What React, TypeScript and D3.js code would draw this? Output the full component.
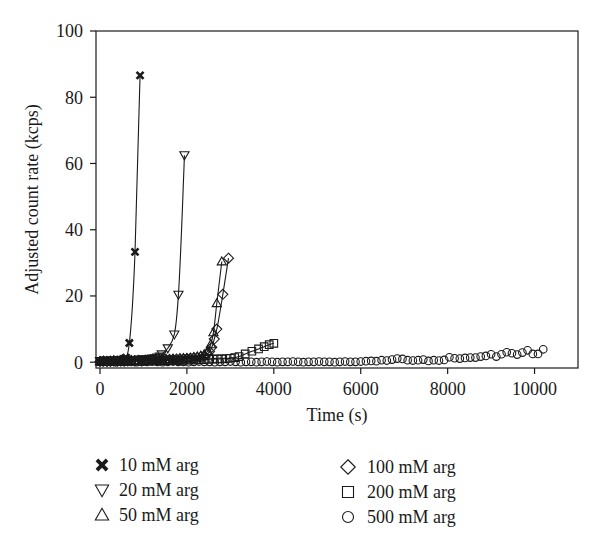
import React from "react";
import * as d3 from "d3";

const t10 = [0, 30, 60, 90, 120, 150, 180, 210, 240, 270, 300, 330, 360, 390, 420, 450, 480, 510, 540, 570, 600, 676, 806, 922];
const v10 = [0.3, 0.2, 0.4, 0.3, 0.2, 0.4, 0.3, 0.3, 0.5, 0.4, 0.3, 0.5, 0.4, 0.6, 0.5, 0.7, 0.6, 0.8, 0.9, 1.1, 1.4, 5.8, 33.3, 86.6];

const t20 = [0, 60, 120, 180, 240, 300, 360, 420, 480, 540, 600, 660, 720, 780, 840, 900, 960, 1020, 1080, 1140, 1200, 1260, 1320, 1380, 1421, 1560, 1710, 1805, 1943];
const v20 = [0.4, 0.3, 0.5, 0.4, 0.3, 0.5, 0.4, 0.6, 0.5, 0.4, 0.6, 0.5, 0.7, 0.6, 0.7, 0.8, 0.7, 0.9, 0.8, 1.0, 1.1, 1.2, 1.4, 1.7, 2.4, 4.2, 8.4, 20.4, 62.5];

const t50 = [0, 80, 160, 240, 320, 400, 480, 560, 640, 720, 800, 880, 960, 1040, 1120, 1200, 1280, 1360, 1440, 1520, 1600, 1680, 1760, 1840, 1920, 2000, 2080, 2160, 2240, 2320, 2400, 2480, 2550, 2611, 2688, 2803];
const v50 = [0.3, 0.4, 0.3, 0.4, 0.5, 0.4, 0.5, 0.4, 0.5, 0.6, 0.5, 0.6, 0.5, 0.7, 0.6, 0.7, 0.7, 0.8, 0.8, 0.9, 0.9, 1.0, 1.0, 1.1, 1.2, 1.2, 1.3, 1.5, 1.7, 2.0, 2.4, 3.4, 5.4, 9.0, 17.8, 30.4];

const t100 = [0, 80, 160, 240, 320, 400, 480, 560, 640, 720, 800, 880, 960, 1040, 1120, 1200, 1280, 1360, 1440, 1520, 1600, 1680, 1760, 1840, 1920, 2000, 2080, 2160, 2240, 2320, 2400, 2460, 2520, 2573, 2630, 2688, 2827, 2957];
const v100 = [0.2, 0.3, 0.2, 0.3, 0.4, 0.3, 0.4, 0.3, 0.4, 0.5, 0.4, 0.5, 0.4, 0.6, 0.5, 0.6, 0.6, 0.7, 0.7, 0.8, 0.8, 0.9, 0.9, 1.0, 1.0, 1.1, 1.2, 1.3, 1.4, 1.6, 1.9, 2.4, 3.2, 4.5, 7.0, 10.0, 20.5, 31.4];

const t200 = [0, 100, 200, 300, 400, 500, 600, 700, 800, 900, 1000, 1100, 1200, 1300, 1400, 1500, 1600, 1700, 1800, 1900, 2000, 2100, 2200, 2300, 2400, 2500, 2600, 2700, 2800, 2900, 3000, 3100, 3200, 3341, 3495, 3648, 3779, 3894, 4000];
const v200 = [0.2, 0.3, 0.2, 0.3, 0.3, 0.2, 0.3, 0.4, 0.3, 0.4, 0.3, 0.4, 0.4, 0.5, 0.4, 0.5, 0.5, 0.6, 0.5, 0.6, 0.6, 0.7, 0.7, 0.8, 0.8, 0.9, 0.9, 1.0, 1.0, 1.1, 1.2, 1.4, 1.7, 2.5, 3.3, 4.0, 4.7, 5.3, 5.7];

const t500 = [0, 120, 240, 360, 480, 600, 720, 840, 960, 1080, 1200, 1320, 1440, 1560, 1680, 1800, 1920, 2040, 2160, 2280, 2400, 2520, 2640, 2760, 2880, 3000, 3120, 3240, 3360, 3480, 3600, 3720, 3840, 3960, 4080, 4200, 4320, 4440, 4560, 4680, 4800, 4920, 5040, 5160, 5280, 5400, 5520, 5640, 5760, 5880, 6000, 6120, 6240, 6360, 6480, 6600, 6720, 6840, 6960, 7080, 7200, 7320, 7440, 7560, 7680, 7800, 7920, 8040, 8160, 8280, 8400, 8520, 8640, 8760, 8880, 9000, 9120, 9240, 9360, 9480, 9600, 9720, 9840, 9960, 10080, 10200];
const v500 = [0.1, 0.2, 0.1, 0.0, 0.1, 0.2, 0.1, 0.0, 0.1, 0.1, 0.2, 0.1, 0.0, 0.1, 0.2, 0.1, 0.1, 0.0, 0.1, 0.2, 0.1, 0.1, 0.0, 0.1, 0.1, 0.2, 0.1, 0.0, 0.1, 0.1, 0.0, 0.1, 0.2, 0.1, 0.0, 0.1, 0.1, 0.2, 0.1, 0.0, 0.1, 0.1, 0.2, 0.1, 0.1, 0.0, 0.1, 0.2, 0.1, 0.1, 0.2, 0.3, 0.4, 0.3, 0.6, 0.5, 0.8, 1.1, 1.0, 0.6, 0.5, 0.6, 0.8, 0.4, 0.6, 0.5, 0.7, 1.5, 1.2, 1.1, 1.3, 1.4, 1.4, 1.7, 1.9, 2.4, 1.7, 2.4, 3.0, 2.7, 2.3, 2.9, 3.6, 2.5, 2.5, 3.9];

const seriesNames = ["10 mM arg", "20 mM arg", "50 mM arg", "100 mM arg", "200 mM arg", "500 mM arg"];
const seriesTimes = [t10, t20, t50, t100, t200, t500];
const seriesValues = [v10, v20, v50, v100, v200, v500];
const seriesShapes = ["cross", "down", "up", "diamond", "square", "circle"];
const seriesHasLine = [true, true, true, true, true, false];

const xTicks = [0, 2000, 4000, 6000, 8000, 10000];
const yTicks = [0, 20, 40, 60, 80, 100];

const W = 600;
const H = 547;
const L = 96, R = 578, T = 31, B = 368;
const FONT = "'Liberation Serif', 'Times New Roman', serif";

function shapePath(shape: string, s: number): string {
  switch (shape) {
    case "down":
      return `M0,${4.6 * s}L${4.6 * s},${-3.4 * s}L${-4.6 * s},${-3.4 * s}Z`;
    case "up":
      return `M0,${-4.6 * s}L${4.6 * s},${3.4 * s}L${-4.6 * s},${3.4 * s}Z`;
    case "diamond":
      return `M0,${-5 * s}L${5 * s},0L0,${5 * s}L${-5 * s},0Z`;
    case "square":
      return `M${-3.8 * s},${-3.8 * s}H${3.8 * s}V${3.8 * s}H${-3.8 * s}Z`;
    case "circle":
      return `M${3.8 * s},0A${3.8 * s},${3.8 * s} 0 1,1 ${-3.8 * s},0A${3.8 * s},${3.8 * s} 0 1,1 ${3.8 * s},0Z`;
    default:
      return `M${-3.5 * s},${-3.5 * s}L${3.5 * s},${3.5 * s}M${3.5 * s},${-3.5 * s}L${-3.5 * s},${3.5 * s}`;
  }
}

function Marker({ shape, x, y, s }: { shape: string; x: number; y: number; s: number }) {
  const isCross = shape === "cross";
  return (
    <path
      d={shapePath(shape, s)}
      transform={`translate(${x},${y})`}
      fill="none"
      stroke="#1a1a1a"
      strokeWidth={isCross ? 2.6 * s : 1.1}
    />
  );
}

export default function App() {
  const x = d3.scaleLinear().domain([-92, 11000]).range([L, R]);
  const y = d3.scaleLinear().domain([-1.75, 100]).range([B, T]);
  const line = d3
    .line<[number, number]>()
    .x((d) => x(d[0]))
    .y((d) => y(d[1]))
    .curve(d3.curveMonotoneX);

  const legendLeft = [0, 1, 2];
  const legendRight = [3, 4, 5];

  return (
    <svg
      width={W}
      height={H}
      style={{ position: "absolute", left: 0, top: 0, background: "#fff" }}
      fontFamily={FONT}
    >
      <rect x={0} y={0} width={W} height={H} fill="#fff" />
      {seriesTimes.map((ts, i) =>
        seriesHasLine[i] ? (
          <path
            key={"l" + i}
            d={line(ts.map((t, j) => [t, seriesValues[i][j]] as [number, number])) || ""}
            fill="none"
            stroke="#1a1a1a"
            strokeWidth={1.1}
          />
        ) : null
      )}
      {seriesTimes.map((ts, i) =>
        ts.map((t, j) => (
          <Marker key={`m${i}-${j}`} shape={seriesShapes[i]} x={x(t)} y={y(seriesValues[i][j])} s={1} />
        ))
      )}
      <rect x={L} y={T} width={R - L} height={B - T} fill="none" stroke="#1a1a1a" strokeWidth={1.2} />
      {yTicks.map((v) => (
        <g key={"y" + v}>
          <line x1={L - 6} x2={L} y1={y(v)} y2={y(v)} stroke="#1a1a1a" strokeWidth={1.2} />
          <text x={L - 13} y={y(v)} dy="0.35em" textAnchor="end" fontSize={18} fill="#1a1a1a">
            {v}
          </text>
        </g>
      ))}
      {xTicks.map((v) => (
        <g key={"x" + v}>
          <line x1={x(v)} x2={x(v)} y1={B} y2={B + 6} stroke="#1a1a1a" strokeWidth={1.2} />
          <text x={x(v)} y={B + 27} textAnchor="middle" fontSize={18} fill="#1a1a1a">
            {v}
          </text>
        </g>
      ))}
      <text x={(L + R) / 2} y={B + 53} textAnchor="middle" fontSize={18} fill="#1a1a1a">
        Time (s)
      </text>
      <text
        transform={`translate(38,${(T + B) / 2}) rotate(-90)`}
        textAnchor="middle"
        fontSize={18}
        fill="#1a1a1a"
      >
        Adjusted count rate (kcps)
      </text>
      {legendLeft.map((i, k) => (
        <g key={"lg" + i}>
          <Marker shape={seriesShapes[i]} x={102} y={465 + 25 * k} s={1.45} />
          <text x={119} y={465 + 25 * k} dy="0.35em" fontSize={18} fill="#1a1a1a">
            {seriesNames[i]}
          </text>
        </g>
      ))}
      {legendRight.map((i, k) => (
        <g key={"lg" + i}>
          <Marker shape={seriesShapes[i]} x={348} y={467 + 25 * k} s={1.45} />
          <text x={367} y={467 + 25 * k} dy="0.35em" fontSize={18} fill="#1a1a1a">
            {seriesNames[i]}
          </text>
        </g>
      ))}
    </svg>
  );
}
